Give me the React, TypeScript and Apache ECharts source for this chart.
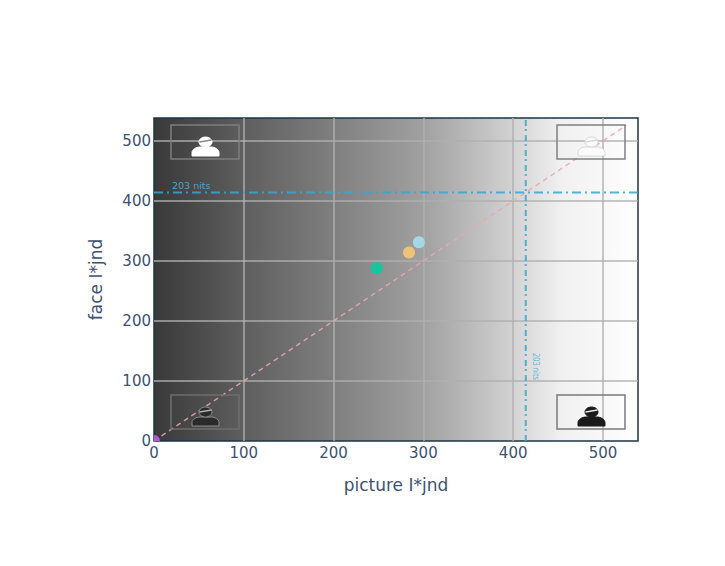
import React, { useEffect, useRef } from "react";
import * as echarts from "echarts";

const pointNames = ["Reference", "A", "B", "C"];
const pointX = [0, 248, 284, 295];
const pointY = [0, 288, 314, 331];
const pointColors = ["#b455e0", "#14c79f", "#eec377", "#a3d9e6"];
const diagonal = [[0, 0], [526, 526]];
const nitsLevel = 414;
const xTitle = "picture I*jnd";
const yTitle = "face I*jnd";
const nitsLabel = "203 nits";
const gradientOffsets = [0, 0.19, 0.37, 0.56, 0.74, 0.84, 1];
const gradientColors = ["#393939", "#5f5f5f", "#7f7f7f", "#a1a1a1", "#d2d2d2", "#f0f0f0", "#ffffff"];

const PERSON_BODY = "M0 19 L0 15.5 C0 12.5 4 10 8 10 L19 10 C23 10 27 12.5 27 15.5 L27 19 Z";
echarts.graphic.registerShape("personBody", echarts.graphic.extendPath(PERSON_BODY, {}));

const person = (
  x: number, y: number, fill: string, stroke: string, band: string,
  boxColor: string, boxX: number, boxY: number,
) => ({
  type: "group",
  z: 5,
  children: [
    { type: "rect", z: 5, shape: { x: boxX, y: boxY, width: 68, height: 34 }, style: { fill: "none", stroke: boxColor, lineWidth: 1.5 } },
    { type: "personBody", z: 5, x, y, style: { fill, stroke, lineWidth: 1 } },
    { type: "ellipse", z: 5, shape: { cx: x + 13.5, cy: y + 5, rx: 6.5, ry: 5 }, style: { fill, stroke, lineWidth: 1 } },
    { type: "line", z: 5, shape: { x1: x + 7.5, y1: y + 5, x2: x + 19.5, y2: y + 3 }, style: { stroke: band, lineWidth: 1.5 } },
  ],
});

export default function App() {
  const ref = useRef<HTMLDivElement>(null);
  useEffect(() => {
    const chart = echarts.init(ref.current!, undefined, { renderer: "svg" });
    const axisCommon = {
      type: "value" as const,
      min: 0,
      interval: 100,
      axisLine: { show: false },
      axisTick: { show: false },
      splitLine: { show: true, showMinLine: false, showMaxLine: false, lineStyle: { color: "rgba(175,175,175,0.7)", width: 2 } },
      nameLocation: "middle" as const,
      nameTextStyle: { color: "#3d5272", fontSize: 17, fontFamily: "DejaVu Sans" },
      axisLabel: { color: "#3d5272", fontSize: 15, fontFamily: "DejaVu Sans", showMaxLabel: false },
    };
    chart.setOption({
      animation: false,
      backgroundColor: "#ffffff",
      grid: {
        show: true, left: 154, top: 118, width: 484, height: 323,
        borderColor: "#1f3442", borderWidth: 1.5,
        backgroundColor: new echarts.graphic.LinearGradient(0, 0, 1, 0,
          gradientOffsets.map((offset, i) => ({ offset, color: gradientColors[i] }))),
      },
      xAxis: { ...axisCommon, max: 539, name: xTitle, nameGap: 35, axisLabel: { ...axisCommon.axisLabel, margin: 4 } },
      yAxis: { ...axisCommon, max: 538, name: yTitle, nameGap: 50, axisLabel: { ...axisCommon.axisLabel, margin: 3 } },
      series: [
        {
          type: "line", data: diagonal, showSymbol: false, silent: true, z: 3,
          lineStyle: { color: "#eda6ac", width: 1.5, type: [5, 4], opacity: 0.85 },
        },
        {
          type: "line", data: [[nitsLevel, 0], [nitsLevel, 538]], showSymbol: false, silent: true, z: 3,
          lineStyle: { color: "#35a6d2", width: 2, type: [6, 4, 2, 3], opacity: 0.85 },
        },
        {
          type: "line", data: [[0, nitsLevel], [539, nitsLevel]], showSymbol: false, silent: true, z: 3,
          lineStyle: { color: "#35a6d2", width: 2, type: [9, 4, 2, 4], opacity: 0.85 },
        },
        {
          type: "custom", z: 6,
          data: pointX.map((x, i) => ({ name: pointNames[i], value: [x, pointY[i], i] })),
          renderItem: (params: any, api: any) => {
            const c = api.coord([api.value(0), api.value(1)]);
            const cs = params.coordSys;
            return {
              type: "circle",
              shape: { cx: c[0], cy: c[1], r: 6 },
              style: { fill: pointColors[api.value(2)] },
              clipPath: { type: "rect", shape: { x: cs.x, y: cs.y, width: cs.width, height: cs.height } },
            };
          },
        },
      ],
      graphic: [
        person(192, 137, "#ffffff", "#ffffff", "#8a8a8a", "#7e7e7e", 171, 125),
        person(578, 137, "#fbfbfb", "#d8d8d8", "#d8d8d8", "#808080", 557, 125),
        person(192, 407, "#2b2b2b", "#8f8f8f", "#b0b0b0", "#6e6e6e", 171, 395),
        person(578, 407, "#1a1a1a", "#1a1a1a", "#e8e8e8", "#7a7a7a", 557, 395),
        { type: "text", z: 6, x: 172, y: 180, style: { text: nitsLabel, fill: "#4aa3cc", fontSize: 9.5, fontFamily: "DejaVu Sans" } },
        { type: "text", z: 6, x: 541, y: 353, rotation: -Math.PI / 2, scaleX: 0.82, style: { text: nitsLabel, fill: "#62b4d8", fontSize: 9, fontFamily: "Open Sans" } },
      ],
    });
    return () => chart.dispose();
  }, []);
  return <div ref={ref} style={{ position: "absolute", left: 0, top: 0, width: 725, height: 566 }} />;
}
